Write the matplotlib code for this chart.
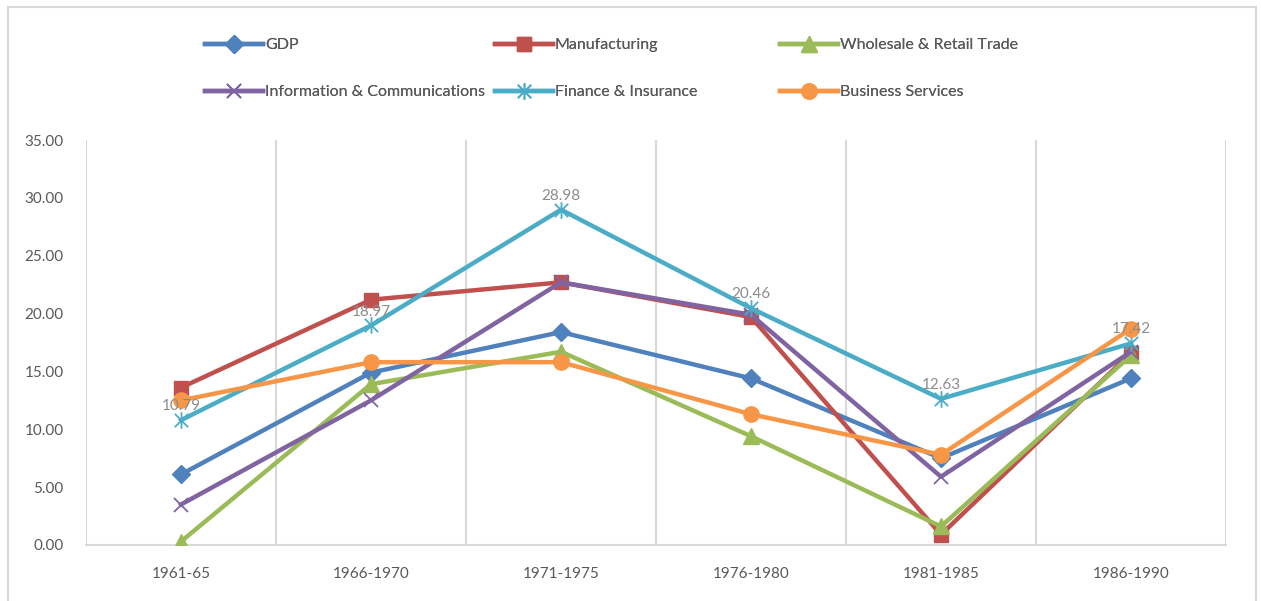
import matplotlib
matplotlib.use("Agg")
import matplotlib.pyplot as plt
from matplotlib.path import Path
from matplotlib.patches import Rectangle

plt.rcParams['font.family'] = ['Lato', 'DejaVu Sans']

categories = ["1961-65", "1966-1970", "1971-1975", "1976-1980", "1981-1985", "1986-1990"]
gdp = [6.1, 14.9, 18.4, 14.4, 7.5, 14.4]
manufacturing = [13.6, 21.2, 22.7, 19.7, 0.9, 16.6]
wholesale = [0.3, 13.9, 16.7, 9.4, 1.6, 16.4]
info_comm = [3.5, 12.5, 22.7, 19.9, 5.9, 16.7]
finance = [10.79, 18.97, 28.98, 20.46, 12.63, 17.42]
business = [12.5, 15.8, 15.8, 11.3, 7.8, 18.7]
yticks = [0, 5, 10, 15, 20, 25, 30, 35]

star = Path([(0, -1), (0, 1), (-0.8, -0.8), (0.8, 0.8), (-0.8, 0.8), (0.8, -0.8)],
            [Path.MOVETO, Path.LINETO, Path.MOVETO, Path.LINETO, Path.MOVETO, Path.LINETO])

series = [
    ("GDP", gdp, "#4F81BD", "D", 9, {}),
    ("Manufacturing", manufacturing, "#C0504D", "s", 10, {}),
    ("Wholesale & Retail Trade", wholesale, "#9BBB59", "^", 11, {}),
    ("Information & Communications", info_comm, "#8064A2", "x", 10, {"markeredgewidth": 1.3}),
    ("Finance & Insurance", finance, "#4BACC6", star, 12, {"markeredgewidth": 1.3}),
    ("Business Services", business, "#F79646", "o", 11, {}),
]

W, H = 1261, 601
fig = plt.figure(figsize=(W / 100, H / 100), dpi=100)
ax = fig.add_axes([86 / W, (H - 545) / H, (1226 - 86) / W, (545 - 140) / H])

x = list(range(len(categories)))
handles = {}
for name, vals, col, mk, ms, kw in series:
    ln, = ax.plot(x, vals, color=col, lw=3.2, marker=mk, markersize=ms,
                  markerfacecolor=col, markeredgecolor=col, label=name,
                  solid_joinstyle='round', zorder=3, **kw)
    handles[name] = ln

for xi, v in zip(x, finance):
    ax.annotate(f"{v:.2f}", (xi, v), xytext=(0, 5), textcoords="offset points",
                ha="center", va="bottom", color="#8C8C8C", fontsize=11, zorder=5)

ax.set_xlim(-0.5, len(categories) - 0.5)
ax.set_ylim(0, 35)
ax.set_yticks(yticks)
ax.set_yticklabels([f"{t:.2f}" for t in yticks])
ax.set_xticks(x)
ax.set_xticklabels(categories)
ax.tick_params(axis='both', length=0, colors="#595959", labelsize=11)
ax.tick_params(axis='x', pad=16, labelsize=11)
ax.tick_params(axis='y', pad=16)

for s in ["top", "left", "right"]:
    ax.spines[s].set_visible(False)
ax.spines["bottom"].set_color("#D9D9D9")
ax.spines["bottom"].set_linewidth(1.5)
for b in [i - 0.5 for i in range(len(categories) + 1)]:
    ax.axvline(b, color="#D9D9D9", lw=1.5, zorder=1)

# legend: three columns, two rows
cols = [("GDP", "Information & Communications"),
        ("Manufacturing", "Finance & Insurance"),
        ("Wholesale & Retail Trade", "Business Services")]
xs = [205, 495, 780]
for (a, b), xp in zip(cols, xs):
    leg = fig.legend([handles[a], handles[b]], [a, b], loc="upper left",
                     bbox_to_anchor=(xp / W, 1 - 38 / H), frameon=False,
                     handlelength=3.6, handletextpad=0.15, labelspacing=2.05,
                     borderpad=0, borderaxespad=0, fontsize=11.5, labelcolor="#595959")
    fig.add_artist(leg)

fig.add_artist(Rectangle((7.5 / W, -0.05), (1256 - 7.5) / W, 1.05 - 7 / H,
                         transform=fig.transFigure, fill=False,
                         edgecolor="#D9D9D9", lw=1.5))

fig.savefig("out.png", dpi=100)
